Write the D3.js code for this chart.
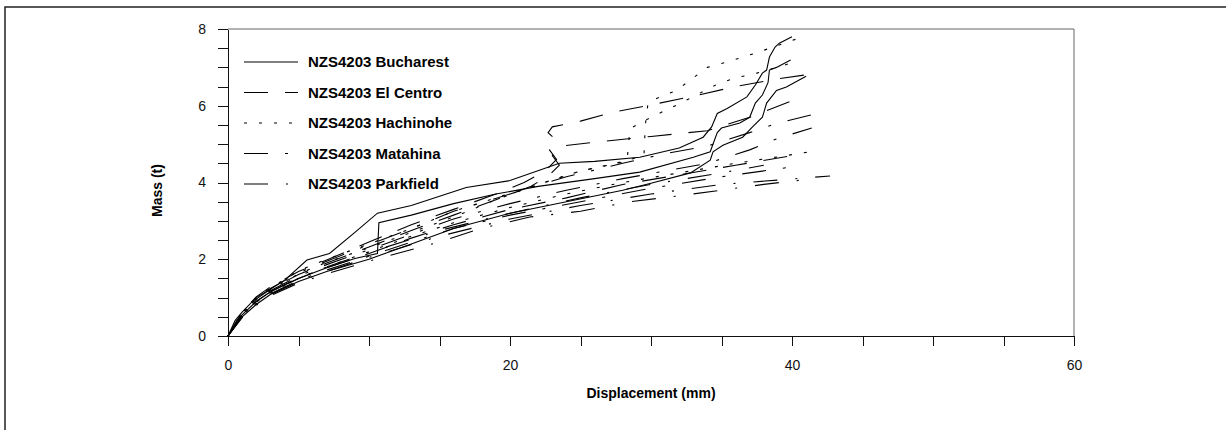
<!DOCTYPE html>
<meta charset="utf-8">
<style>
body { margin: 0; background: #fff; }
svg { font-family: "Liberation Sans", Arial, sans-serif; }
.axis text { font-size: 14px; fill: #111; }
.axis path, .axis line { stroke: #111; shape-rendering: crispEdges; }
.curve { fill: none; stroke: #000; stroke-width: 1.1; }
</style>
<svg width="1226" height="430" id="chart"></svg>
<script src="https://d3js.org/d3.v7.min.js"></script>
<script>
// displacement (mm), mass (t)
var bucharest = [
  [[0,0],[0.5,0.4],[1,0.62],[2,1.0],[3,1.22],[4,1.45],[5.6,1.98],[7.2,2.15],[9,2.7],[10.6,3.2],[13,3.4],[16.9,3.87],[20,4.05],[23.5,4.5],[26,4.55],[29.2,4.66],[32,4.9],[33.7,5.18],[34.3,5.45],[34.7,5.8],[35.4,5.93],[36.8,6.23],[37.4,6.54],[37.9,6.85],[38.2,6.93],[38.4,7.27],[38.8,7.53],[39.1,7.63],[40,7.8]],
  [[0,0],[0.6,0.38],[1,0.55],[2,0.9],[3,1.15],[5,1.5],[7,1.78],[9,2.02],[10.6,2.15],[10.7,2.95],[13,3.15],[16,3.45],[19,3.7],[22,3.9],[26,4.1],[29.2,4.27],[33,4.66],[34.2,4.8],[34.7,5.3],[35,5.42],[36.3,5.55],[37,5.7],[37.4,6.07],[37.9,6.28],[38.3,6.6],[38.4,6.93],[38.9,7.0],[39.9,7.19]],
  [[0,0],[0.7,0.38],[1,0.5],[2,0.82],[3,1.08],[5,1.42],[7,1.68],[10,2.0],[13,2.4],[16,2.8],[20,3.2],[24,3.5],[28,3.8],[30,3.98],[32.8,4.25],[34.2,4.58],[34.4,4.8],[35.1,4.97],[36.5,5.18],[37.2,5.45],[37.9,5.7],[38.2,6.07],[38.9,6.4],[39.6,6.49],[41,6.77]]
];
var elCentro = [
  [[0,0],[1,0.62],[2,1.02],[3,1.28],[5,1.68],[7,1.98],[10,2.45],[13,2.9],[16,3.3],[19,3.7],[21,4.0],[22.5,4.3],[23.3,4.6],[22.8,4.85],[23.3,5.1],[22.7,5.3],[23,5.45],[25,5.6],[27.3,5.83],[29.7,6.0],[33,6.25],[36,6.5],[39,6.7],[41.8,6.85]],
  [[0,0],[1,0.58],[2,0.96],[3,1.22],[5,1.6],[7,1.9],[10,2.32],[13,2.75],[16,3.15],[19,3.55],[21.5,3.9],[22.8,4.2],[23.5,4.45],[23,4.7],[23.6,4.95],[26,5.05],[30,5.2],[34,5.35],[37,5.7],[40.5,6.2]],
  [[0,0],[1,0.55],[2,0.9],[3,1.15],[5,1.5],[7,1.78],[10,2.15],[13,2.55],[16,2.9],[20,3.3],[24,3.6],[28,3.95],[32,4.2],[36,4.45],[40,4.7]]
];
var hachinohe = [
  [[0,0],[1,0.6],[2,1.0],[3,1.25],[5,1.7],[7,2.0],[10,2.4],[13,2.8],[16,3.25],[19,3.6],[22,3.95],[25,4.3],[27.5,4.5],[29.5,4.7],[29.6,5.5],[29.8,6.1],[31.8,6.4],[34,7.0],[35.4,7.14],[37.4,7.37],[40.8,7.8]],
  [[0,0],[1,0.57],[2,0.95],[3,1.2],[5,1.62],[7,1.92],[10,2.3],[13,2.7],[16,3.1],[19,3.55],[22,3.95],[25,4.3],[28.3,4.55],[28.4,4.95],[28.5,5.4],[30,5.7],[32,6.05],[34.9,6.6],[36.3,6.75],[37.5,6.85],[40.4,7.16]],
  [[0,0],[1,0.52],[2,0.88],[3,1.12],[5,1.5],[7,1.8],[10,2.2],[13,2.6],[16,2.95],[20,3.35],[24,3.7],[28,4.0],[32,4.25],[36,4.5],[41.3,4.8]]
];
var matahina = [
  [[0,0],[1,0.6],[2,0.98],[3,1.24],[5,1.64],[7,1.95],[10,2.38],[13,2.8],[16,3.25],[20,3.7],[24,4.15],[28,4.5],[31,4.75],[34,4.95],[37,5.3],[39,5.55],[41.8,5.8]],
  [[0,0],[1,0.56],[2,0.92],[3,1.18],[5,1.56],[7,1.86],[10,2.25],[13,2.65],[16,3.05],[20,3.45],[24,3.8],[28,4.1],[31,4.3],[34,4.5],[37,4.85],[39,5.15],[41.4,5.42]],
  [[0,0],[1,0.5],[2,0.85],[3,1.1],[5,1.45],[7,1.72],[10,2.08],[13,2.45],[16,2.8],[20,3.15],[25,3.5],[30,3.85],[35,4.15],[40.3,4.42]]
];
var parkfield = [
  [[0,0],[1,0.48],[2,0.8],[3,1.05],[5,1.38],[7,1.62],[10,1.95],[15,2.45],[17.9,2.8],[21.4,3.1],[25,3.25],[28.5,3.5],[31.3,3.62],[35,3.8],[38,3.95],[41.5,4.1]],
  [[0,0],[1,0.5],[2,0.84],[3,1.08],[5,1.42],[7,1.68],[10,2.05],[15,2.6],[20,3.05],[25,3.4],[30,3.7],[35,3.95],[42.7,4.17]],
  [[0,0],[1,0.55],[2,0.9],[3,1.15],[5,1.52],[7,1.8],[10,2.18],[15,2.75],[20,3.2],[25,3.6],[30,3.95],[35,4.25],[38,4.45]]
];

var seriesNames = ["NZS4203 Bucharest", "NZS4203 El Centro", "NZS4203 Hachinohe", "NZS4203 Matahina", "NZS4203 Parkfield"];
var seriesRuns = [bucharest, elCentro, hachinohe, matahina, parkfield];
var dashes = ["none", "24,17", "3,12", "24,17,3,17", "24,18,2,18"];
var xTicks = [0, 20, 40, 60];
var yTicks = [0, 2, 4, 6, 8];

var svg = d3.select("#chart");

// outer frame of the figure
svg.append("rect")
    .attr("x", 5).attr("y", 7)
    .attr("width", 1240).attr("height", 440)
    .attr("fill", "none").attr("stroke", "#222").attr("stroke-width", 1.5);

var x = d3.scaleLinear().domain([0, 60]).range([228, 1074]);
var y = d3.scaleLinear().domain([0, 8]).range([336, 29]);

// plot frame (top and right)
svg.append("path")
    .attr("d", `M${x(0)},${y(8)}H${x(60)}V${y(0)}`)
    .attr("fill", "none").attr("stroke", "#666").attr("stroke-width", 1);

var xAxis = svg.append("g")
    .attr("class", "axis")
    .attr("transform", `translate(0,${y(0)})`)
    .call(d3.axisBottom(x).tickValues(d3.range(0, 61, 5)).tickSize(10).tickSizeOuter(0)
      .tickFormat(d => xTicks.includes(d) ? d : ""));
xAxis.selectAll("text").attr("dy", "1.5em");

svg.append("g")
    .attr("class", "axis")
    .attr("transform", `translate(${x(0)},0)`)
    .call(d3.axisLeft(y).tickValues(d3.range(0, 8.01, 0.5)).tickSize(10).tickSizeOuter(0).tickPadding(12)
      .tickFormat(d => yTicks.includes(d) ? d : ""));

svg.append("text")
    .attr("x", (x(0) + x(60)) / 2).attr("y", 398)
    .attr("text-anchor", "middle")
    .attr("font-size", 14).attr("font-weight", "bold")
    .text("Displacement (mm)");

svg.append("text")
    .attr("transform", `translate(162,${(y(0) + y(8)) / 2 + 8}) rotate(-90)`)
    .attr("text-anchor", "middle")
    .attr("font-size", 14).attr("font-weight", "bold")
    .text("Mass (t)");

var line = d3.line().x(d => x(d[0])).y(d => y(d[1]));

seriesRuns.forEach(function(runs, i) {
  svg.append("g")
    .selectAll("path")
    .data(runs)
    .enter().append("path")
      .attr("class", "curve")
      .attr("d", line)
      .attr("stroke-dasharray", dashes[i]);
});

// legend
var legend = svg.append("g")
  .selectAll("g")
  .data(seriesNames)
  .enter().append("g")
    .attr("transform", (d, i) => `translate(244,${62 + i * 30.5})`);

legend.append("line")
    .attr("x1", 0).attr("x2", 54)
    .attr("stroke", "#000").attr("stroke-width", 1.1)
    .attr("stroke-dasharray", (d, i) => dashes[i]);

legend.append("text")
    .attr("x", 64).attr("dy", "0.36em")
    .attr("font-size", 15).attr("font-weight", "bold")
    .text(d => d);
</script>
